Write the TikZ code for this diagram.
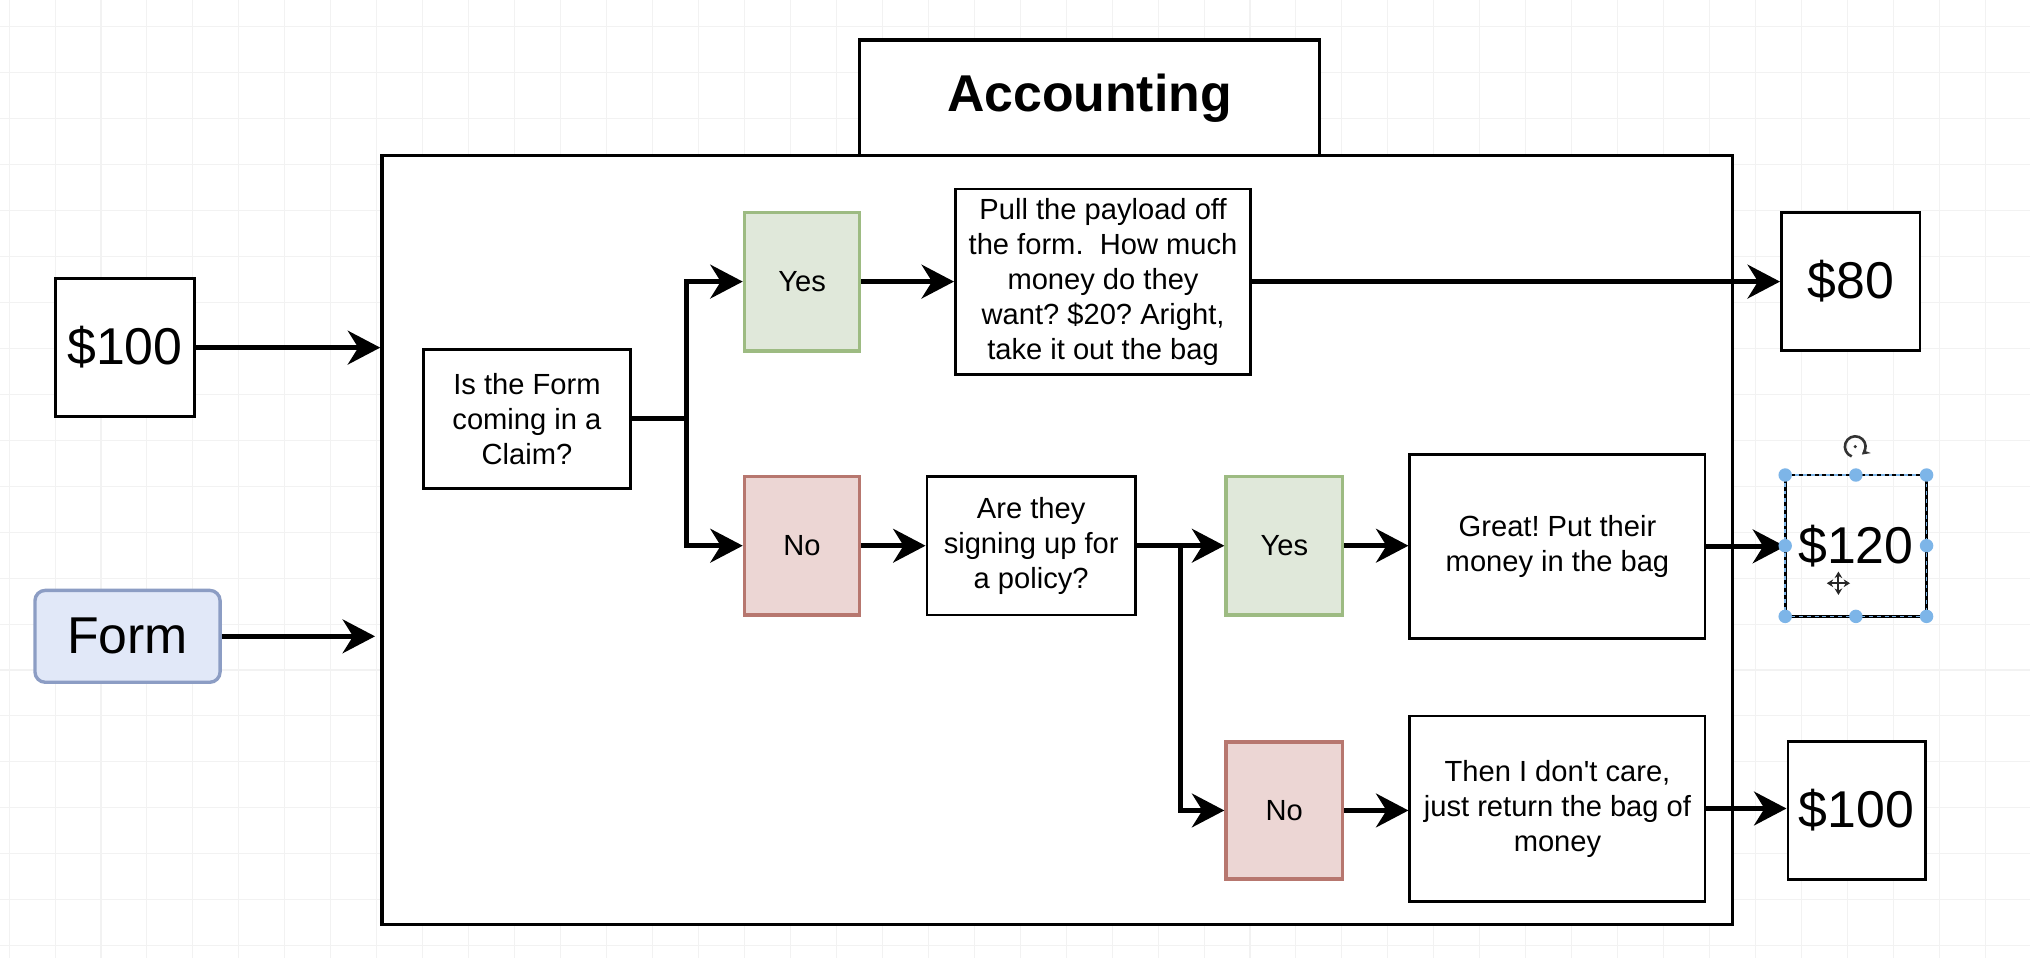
\documentclass[tikz,border=0pt]{standalone}
\usepackage{fontspec}
\setmainfont{Liberation Sans}
\usetikzlibrary{arrows.meta,calc}
\frenchspacing
\definecolor{gridc}{HTML}{F2F2F2}
\definecolor{gfill}{HTML}{E0E8DA}
\definecolor{gline}{HTML}{9DBB82}
\definecolor{rfill}{HTML}{ECD6D4}
\definecolor{rline}{HTML}{B7776F}
\definecolor{bfill}{HTML}{E1E8F8}
\definecolor{bline}{HTML}{8C9DC4}
\definecolor{handle}{HTML}{7DB5E8}
\newcommand\bodyfnt{\fontsize{11.25pt}{13.5pt}\selectfont}
\newcommand\bigfnt{\fontsize{20pt}{24pt}\selectfont}
\tikzset{
  bx/.style={draw=black, line width=1.1pt, fill=white, inner sep=1pt, align=center, font=\bodyfnt},
  money/.style={bx, font=\bigfnt, minimum width=53.5pt, minimum height=53.5pt},
  yesbox/.style={bx, fill=gfill, draw=gline, line width=1.3pt, minimum width=44.5pt, minimum height=53.5pt},
  nobox/.style={bx, fill=rfill, draw=rline, line width=1.3pt, minimum width=44.5pt, minimum height=53.5pt},
  conn/.style={line width=2pt, -{Stealth[length=12.5pt,width=13pt,inset=4pt]}},
  wire/.style={line width=2pt},
}
\begin{document}
\begin{tikzpicture}[x=0.5pt,y=-0.5pt]
\useasboundingbox (0,0) rectangle (1568,740);
\fill[white] (0,0) rectangle (1568,740);
\foreach \i in {0,...,44} \draw[gridc, line width=0.4pt] ({7+35.5*\i},0) -- ({7+35.5*\i},740);
\foreach \j in {0,...,20} \draw[gridc, line width=0.4pt] (0,{20.5+35.5*\j}) -- (1568,{20.5+35.5*\j});

% title and container
\node[bx, line width=1.3pt, minimum width=177.5pt, minimum height=44.5pt, font=\bigfnt\bfseries] (acct) at (841.5,75.5) {Accounting};
\node[bx, line width=1.3pt, minimum width=521.5pt, minimum height=297pt] (cont) at (816.5,417) {};

% inputs
\node[money] (m100) at (96.5,268.5) {\$100};
\node[bx, fill=bfill, draw=bline, line width=1.3pt, rounded corners=4pt, font=\bigfnt, minimum width=71.5pt, minimum height=35.5pt] (form) at (98.5,491.5) {Form};

% inner boxes
\node[bx, minimum width=80pt, minimum height=53.5pt] (claim) at (407,323.5) {Is the Form\\coming in a\\Claim?};
\node[yesbox] (yes1) at (619.5,217.5) {Yes};
\node[nobox] (no1) at (619.5,421.5) {No};
\node[bx, minimum width=114pt, minimum height=71.5pt] (pull) at (852,217.5) {Pull the payload off\\the form.\ \ How much\\money do they\\want? \$20? Aright,\\take it out the bag};
\node[bx, minimum width=80.5pt, minimum height=53.5pt] (are) at (796.5,421.5) {Are they\\signing up for\\a policy?};
\node[yesbox, minimum width=45pt] (yes2) at (992,421.5) {Yes};
\node[nobox, minimum width=45pt, minimum height=53pt] (no2) at (992,626) {No};
\node[bx, minimum width=114pt, minimum height=71pt] (great) at (1203,422) {Great! Put their\\money in the bag};
\node[bx, minimum width=114pt, minimum height=71.5pt] (then) at (1203,624.5) {Then I don\textquotesingle t care,\\just return the bag of\\money};

% outputs
\node[money] (d80) at (1429.5,217.5) {\$80};
\node[money, draw=none, fill=none] (d120) at (1433.5,421.5) {\$120};
\node[money, minimum width=53pt, minimum height=53pt] (d100) at (1434,626) {\$100};

% connectors
\draw[conn] (m100.east) -- (m100.east -| cont.west);
\draw[conn] (form.east) -- ($(form.east -| cont.west)+(-4,0)$);
\coordinate (j1) at (530,323.5);
\draw[wire] (claim.east) -- (j1);
\draw[conn] (j1) |- (yes1.west);
\draw[conn] (j1) |- (no1.west);
\draw[conn] (yes1.east) -- (pull.west);
\draw[conn] (pull.east) -- (d80.west);
\draw[conn] (no1.east) -- (are.west);
\coordinate (j2) at (912,421.5);
\draw[conn] (are.east) -- (yes2.west);
\draw[conn] (j2) |- (no2.west);
\draw[conn] (yes2.east) -- (yes2.east -| great.west);
\draw[conn] (no2.east) -- (no2.east -| then.west);
\draw[conn] (great.east) -- (great.east -| d120.west);
\draw[conn] (then.east) -- (then.east -| d100.west);

% selection decoration of $120
\draw[black, line width=1.1pt] (d120.north west) rectangle (d120.south east);
\draw[handle, line width=0.6pt, dash pattern=on 1.5pt off 1.5pt] (d120.north west) rectangle (d120.south east);
\foreach \a in {north west,north,north east,east,south east,south,south west,west}
  \fill[handle] (d120.\a) circle[radius=2.6pt];
% rotate icon
\draw[black!80, line width=1pt, -{Stealth[length=3pt,width=3.5pt]}] ($(1433,345)+(110:8)$) arc[start angle=110, end angle=410, radius=8];
\fill[black!80] (1433,345) circle[radius=0.7pt];
% move icon
\draw[black!85, line width=0.8pt, {Stealth[length=2.5pt,width=3pt]}-{Stealth[length=2.5pt,width=3pt]}] (1411,450.5) -- (1429,450.5);
\draw[black!85, line width=0.8pt, {Stealth[length=2.5pt,width=3pt]}-{Stealth[length=2.5pt,width=3pt]}] (1420,441.5) -- (1420,459.5);
\end{tikzpicture}
\end{document}
